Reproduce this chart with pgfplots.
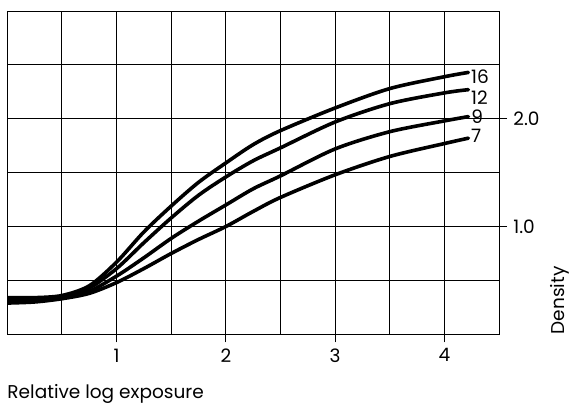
\documentclass[border=0pt]{standalone}
\usepackage{fontspec}
\setmainfont{Poppins}
\usepackage{pgfplots}
\pgfplotsset{compat=1.18}
\pgfplotsset{curve/.style={black, line width=3.6bp, smooth, no markers, line cap=round}}
\begin{document}
\fontsize{18.5bp}{22bp}\selectfont
\begin{tikzpicture}
\begin{axis}[
  at={(0,0)}, anchor=south west,
  scale only axis, width=491.7bp, height=323.3bp,
  xmin=0, xmax=4.5, ymin=0, ymax=3,
  xtick={1,2,3,4}, xticklabels={1,2,3,4},
  minor xtick={0.5,1.5,2.5,3.5},
  ytick={1,2}, yticklabels={1.0,2.0},
  minor ytick={0.5,1.5,2.5},
  grid=both,
  major grid style={black, line width=0.9bp},
  minor grid style={black, line width=0.9bp},
  axis line style={black, line width=0.9bp},
  tick align=outside, xtick pos=bottom, ytick pos=right, yticklabel pos=right,
  major tick length=8bp, minor tick length=0pt,
  tick style={black, line width=0.9bp},
  ticklabel style={font=\fontsize{18.5bp}{22bp}\selectfont},
  xlabel={Relative log exposure},
  xlabel style={at={(axis description cs:0,0)}, anchor=base west, inner sep=0pt, yshift=-64bp, font=\fontsize{18.5bp}{22bp}\selectfont},
  ylabel={Density},
  ylabel style={at={(axis description cs:1.1328,0)}, rotate=0, anchor=base west, inner sep=0pt, font=\fontsize{18.5bp}{22bp}\selectfont},
]
\addplot[curve] coordinates {(0,0.34)(0.25,0.34)(0.5,0.36)(0.75,0.45)(1,0.67)(1.25,0.95)(1.5,1.19)(1.75,1.41)(2,1.59)(2.25,1.76)(2.5,1.89)(3,2.10)(3.5,2.28)(4,2.39)(4.22,2.43)}
  node[pos=1, anchor=west, inner sep=2.5bp, yshift=-4bp, line width=0.4pt] {16};
\addplot[curve] coordinates {(0,0.33)(0.25,0.33)(0.5,0.35)(0.75,0.43)(1,0.61)(1.25,0.85)(1.5,1.08)(1.75,1.29)(2,1.46)(2.25,1.61)(2.5,1.73)(3,1.97)(3.5,2.14)(4,2.24)(4.22,2.27)}
  node[pos=1, anchor=west, inner sep=2.5bp, yshift=-8bp, line width=0.4pt] {12};
\addplot[curve] coordinates {(0,0.31)(0.25,0.32)(0.5,0.34)(0.75,0.40)(1,0.54)(1.25,0.71)(1.5,0.89)(1.75,1.05)(2,1.20)(2.25,1.35)(2.5,1.47)(3,1.72)(3.5,1.88)(4,1.98)(4.22,2.02)}
  node[pos=1, anchor=west, inner sep=2.5bp, line width=0.4pt] {9};
\addplot[curve] coordinates {(0,0.29)(0.25,0.30)(0.5,0.33)(0.75,0.38)(1,0.48)(1.25,0.61)(1.5,0.75)(1.75,0.88)(2,1.00)(2.25,1.14)(2.5,1.27)(3,1.48)(3.5,1.65)(4,1.77)(4.22,1.82)}
  node[pos=1, anchor=west, inner sep=2.5bp, yshift=2bp, line width=0.4pt] {7};
\end{axis}
\path (-7.3bp,-71.7bp) rectangle (566.7bp,334.3bp);
\end{tikzpicture}
\end{document}
